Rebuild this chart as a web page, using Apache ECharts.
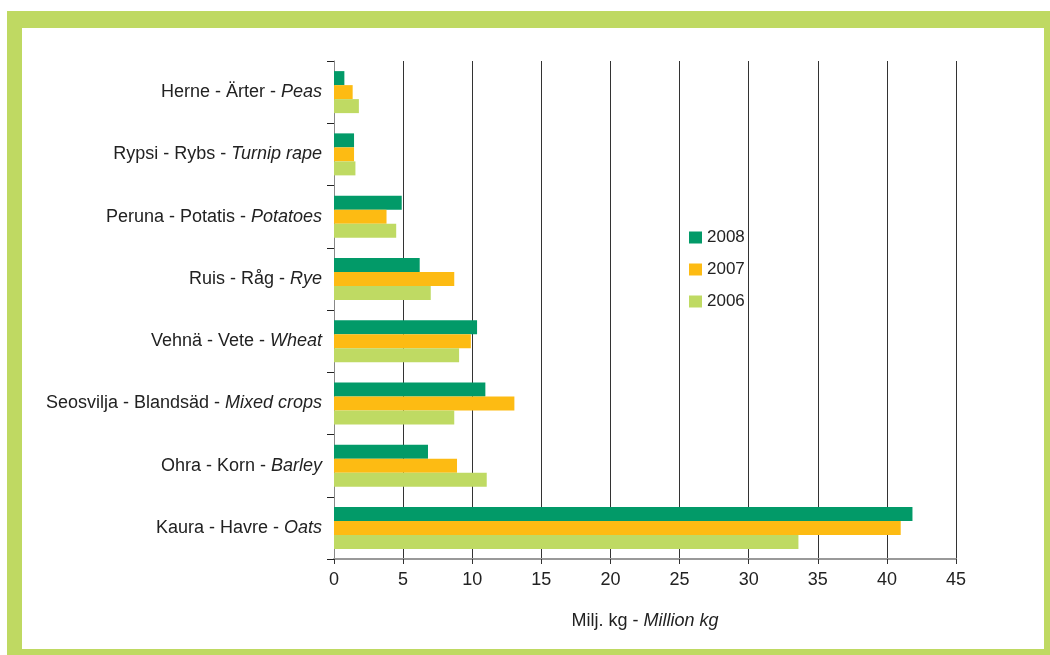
<!DOCTYPE html>
<html>
<head>
<meta charset="utf-8">
<script src="https://cdn.jsdelivr.net/npm/echarts@6/dist/echarts.min.js"></script>
<style>
  html, body { margin: 0; padding: 0; background: #fff; }
  #frame {
    position: absolute; left: 7px; top: 11px; width: 1043px; height: 644px;
    box-sizing: border-box; background: #fff;
    border-style: solid; border-color: #bfd962;
    border-width: 17px 6px 6px 15px;
  }
  #chart { position: absolute; left: 0; top: 0; width: 1050px; height: 655px; }
</style>
</head>
<body>
<div id="frame"></div>
<div id="chart"></div>
<script>
// categories from bottom to top (Finnish - Swedish - English)
let namesLocal = ['Kaura - Havre - ', 'Ohra - Korn - ', 'Seosvilja - Blandsäd - ', 'Vehnä - Vete - ',
  'Ruis - Råg - ', 'Peruna - Potatis - ', 'Rypsi - Rybs - ', 'Herne - Ärter - ']
let namesEn = ['Oats', 'Barley', 'Mixed crops', 'Wheat', 'Rye', 'Potatoes', 'Turnip rape', 'Peas']
let years = ['2008', '2007', '2006']
let values2008 = [41.85, 6.8, 10.95, 10.35, 6.2, 4.9, 1.45, 0.75]
let values2007 = [41.0, 8.9, 13.05, 9.9, 8.7, 3.8, 1.45, 1.35]
let values2006 = [33.6, 11.05, 8.7, 9.05, 7.0, 4.5, 1.55, 1.8]
let xTicks = [0, 45, 5]

let colors = { '2008': '#029a68', '2007': '#fdbb13', '2006': '#bfda63' }
let font = 'Liberation Sans, Arial, sans-serif'

let chart = echarts.init(document.getElementById('chart'))

let categories = namesLocal.map((n, i) => n + '|' + namesEn[i])

function bar (year, data) {
  return {
    name: year,
    type: 'bar',
    data: data,
    barWidth: 14,
    barGap: '0%',
    itemStyle: { color: colors[year] }
  }
}

let option = {
  animation: false,
  textStyle: { fontFamily: font },
  grid: { left: 334, right: 94, top: 61, bottom: 96, containLabel: false },
  legend: {
    data: years,
    orient: 'vertical',
    left: 689,
    top: 229,
    padding: 0,
    itemWidth: 13,
    itemHeight: 12,
    itemGap: 15,
    icon: 'rect',
    textStyle: { fontSize: 17, color: '#222', fontFamily: font }
  },
  xAxis: {
    type: 'value',
    min: xTicks[0],
    max: xTicks[1],
    interval: xTicks[2],
    axisLine: { show: true, lineStyle: { color: '#999', width: 2 } },
    axisTick: { show: true, length: 5, lineStyle: { color: '#333' } },
    splitLine: { show: true, lineStyle: { color: '#333', width: 1 } },
    axisLabel: { fontSize: 18, color: '#222', margin: 12, fontFamily: font },
    name: '{n|Milj. kg - }{i|Million kg}',
    nameLocation: 'middle',
    nameGap: 53,
    nameTextStyle: {
      rich: {
        n: { fontSize: 18, color: '#222', fontFamily: font },
        i: { fontSize: 18, color: '#222', fontFamily: font, fontStyle: 'italic' }
      }
    }
  },
  yAxis: {
    type: 'category',
    data: categories,
    axisLine: { show: true, lineStyle: { color: '#888', width: 1 } },
    axisTick: { show: true, length: 7, lineStyle: { color: '#222' } },
    axisLabel: {
      margin: 12,
      formatter: function (v) {
        let p = v.split('|')
        return '{n|' + p[0] + '}{i|' + p[1] + '}'
      },
      rich: {
        n: { fontSize: 18, color: '#222', fontFamily: font },
        i: { fontSize: 18, color: '#222', fontFamily: font, fontStyle: 'italic' }
      }
    }
  },
  series: [
    bar('2008', values2008),
    bar('2007', values2007),
    bar('2006', values2006)
  ]
}

chart.setOption(option)
</script>
</body>
</html>
